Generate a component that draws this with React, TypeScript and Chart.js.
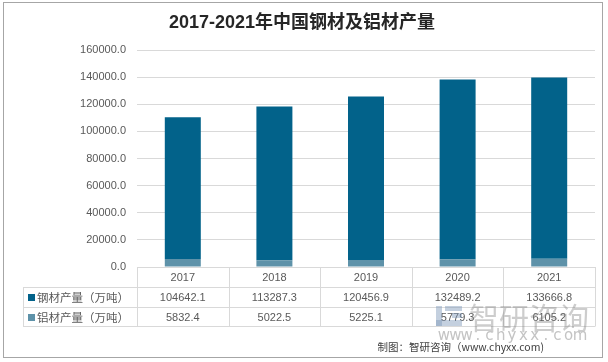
import React, { useEffect, useRef } from "react";
import { Chart, registerables } from "chart.js";

Chart.register(...registerables);

const years = ["2017", "2018", "2019", "2020", "2021"];
const steel = [104642.1, 113287.3, 120456.9, 132489.2, 133666.8];
const aluminum = [5832.4, 5022.5, 5225.1, 5779.3, 6105.2];
const steelLabel = "钢材产量（万吨）";
const aluminumLabel = "铝材产量（万吨）";
const title = "2017-2021年中国钢材及铝材产量";
const source = "制图：智研咨询（www.chyxx.com)";
const watermarkUrl = "www.chyxx.com";

const STEEL_COLOR = "#02628A";
const ALU_COLOR = "#5E92A9";
const GRID = "#D9D9D9";
const TEXT = "#595959";

const fmt = (v: number) => v.toFixed(1);

const decorPlugin = {
  id: "decor",
  afterDraw(chart: any) {
    const ctx = chart.ctx as CanvasRenderingContext2D;
    const area = chart.chartArea;
    const xs = chart.scales.x;
    const colW = (area.right - area.left) / years.length;
    const top = area.bottom;
    const r1 = top + 20;
    const r2 = r1 + 20;
    const r3 = r2 + 19;
    const tableLeft = 23;
    ctx.save();
    ctx.strokeStyle = GRID;
    ctx.lineWidth = 1;
    ctx.beginPath();
    const hl = (x1: number, x2: number, y: number) => {
      ctx.moveTo(x1, Math.round(y) + 0.5);
      ctx.lineTo(x2, Math.round(y) + 0.5);
    };
    const vl = (x: number, y1: number, y2: number) => {
      ctx.moveTo(Math.round(x) + 0.5, y1);
      ctx.lineTo(Math.round(x) + 0.5, y2);
    };
    hl(tableLeft, area.right, r1);
    hl(tableLeft, area.right, r2);
    hl(tableLeft, area.right, r3);
    vl(tableLeft, r1, r3 + 0.5);
    for (let i = 0; i <= years.length; i++) {
      const x = area.left + i * colW;
      vl(x, top, r3 + 0.5);
    }
    ctx.stroke();

    ctx.fillStyle = TEXT;
    ctx.font = "11px 'Liberation Sans', 'Noto Sans CJK SC'";
    ctx.textAlign = "center";
    ctx.textBaseline = "middle";
    years.forEach((y, i) => {
      const cx = xs.getPixelForValue(i);
      ctx.fillText(y, cx, (top + r1) / 2 + 1);
      ctx.fillText(fmt(steel[i]), cx, (r1 + r2) / 2 + 1);
      ctx.fillText(fmt(aluminum[i]), cx, (r2 + r3) / 2 + 1);
    });

    ctx.textAlign = "left";
    ctx.font = "11.5px 'Noto Sans CJK SC'";
    const rows: [string, string, number][] = [
      [steelLabel, STEEL_COLOR, (r1 + r2) / 2],
      [aluminumLabel, ALU_COLOR, (r2 + r3) / 2],
    ];
    rows.forEach(([label, color, cy]) => {
      ctx.fillStyle = color;
      ctx.fillRect(28, Math.round(cy) - 3, 7, 7);
      ctx.fillStyle = TEXT;
      ctx.fillText(label, 37, cy + 1);
    });

    ctx.fillStyle = "#262626";
    ctx.textAlign = "center";
    ctx.font = "bold 18px 'Liberation Sans', 'Noto Sans CJK SC'";
    ctx.fillText(title, 302, 23);

    // watermark
    ctx.fillStyle = "rgba(125,150,185,0.45)";
    ctx.fillRect(436, 306, 6, 20);
    ctx.fillRect(436, 320, 26, 6);
    ctx.fillRect(445, 306, 17, 5);
    ctx.fillRect(452, 313, 10, 5);
    ctx.fillStyle = "rgba(130,130,130,0.4)";
    ctx.font = "30px 'Noto Sans CJK SC'";
    ctx.textAlign = "left";
    ctx.fillText("智研咨询", 469, 318);
    ctx.fillStyle = "#C4C4C4";
    ctx.font = "15px 'DejaVu Sans'";
    ctx.textAlign = "center";
    const chars = watermarkUrl.split("");
    const step = (580 - 444) / (chars.length - 1);
    for (let i = 0; i < chars.length; i++) {
      ctx.fillText(chars[i], 444 + i * step, 336);
    }

    ctx.fillStyle = "#404040";
    ctx.textAlign = "right";
    ctx.font = "10.5px 'Noto Sans CJK SC'";
    ctx.fillText(source, 544, 347);

    ctx.strokeStyle = "#A6A6A6";
    ctx.lineWidth = 1;
    ctx.strokeRect(3.5, 2.5, 599, 355);
    ctx.restore();
  },
};

export default function App() {
  const ref = useRef<HTMLCanvasElement>(null);
  useEffect(() => {
    if (!ref.current) return;
    const chart = new Chart(ref.current, {
      type: "bar",
      data: {
        labels: years,
        datasets: [
          {
            label: aluminumLabel,
            data: aluminum,
            backgroundColor: ALU_COLOR,
            stack: "s",
          },
          {
            label: steelLabel,
            data: steel,
            backgroundColor: STEEL_COLOR,
            stack: "s",
          },
        ],
      },
      options: {
        responsive: false,
        animation: false,
        layout: { padding: { left: 0, right: 13, top: 50, bottom: 95 } },
        datasets: {
          bar: { categoryPercentage: 1, barPercentage: 0.393 },
        },
        plugins: {
          legend: { display: false },
          tooltip: { enabled: false },
          title: { display: false },
        },
        scales: {
          x: { stacked: true, display: false },
          y: {
            stacked: true,
            min: 0,
            max: 160000,
            ticks: {
              stepSize: 20000,
              callback: (v: any) => fmt(Number(v)),
              color: TEXT,
              font: { size: 11, family: "'Liberation Sans'" },
              padding: 11,
            },
            grid: { color: GRID, drawTicks: false },
            border: { display: false },
            afterFit: (s: any) => {
              s.width = 137;
            },
          },
        },
      } as any,
      plugins: [decorPlugin],
    });
    return () => chart.destroy();
  }, []);
  return (
    <div style={{ position: "fixed", left: 0, top: 0, width: 608, height: 362, background: "#fff" }}>
      <canvas ref={ref} width={608} height={362} />
    </div>
  );
}
